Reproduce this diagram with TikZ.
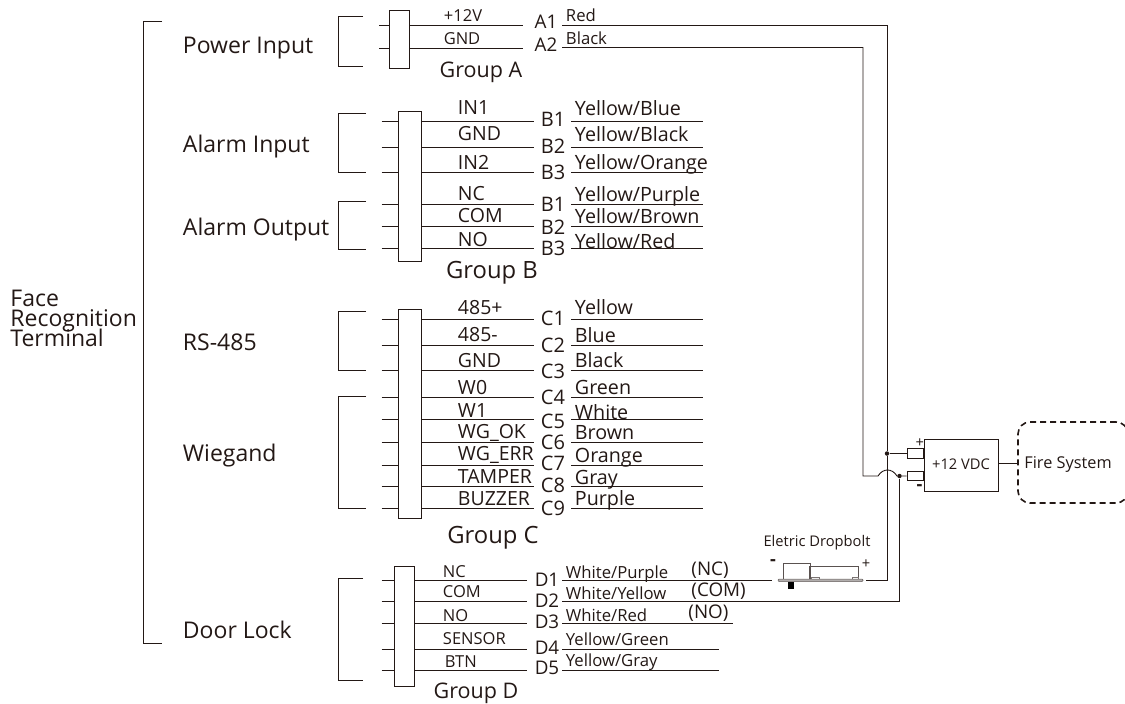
\documentclass[tikz,border=0pt]{standalone}
\usepackage{fontspec}
\setmainfont{Open Sans}
\definecolor{ink}{HTML}{231815}
\tikzset{
  x=1pt,y=-1pt,
  txt/.style={text=ink,inner sep=0pt,anchor=west,text depth=0pt},
  ctr/.style={txt,anchor=center},
  fs/.style={font=\fontsize{#1}{#1}\selectfont,text height=#1*0.714pt},
  fbig/.style={fs=23},
  fgroup/.style={fs=23.8},
  fgrp/.style={fs=21.5},
  fpin/.style={fs=19.5},
  fpins/.style={fs=16.5},
  fpt/.style={fs=20},
  fpts/.style={fs=18.8},
  fcol/.style={fs=19.7},
  fcols/.style={fs=16.7},
  fsm/.style={fs=14.7},
  fmin/.style={font=\fontsize{18}{18}\bfseries\selectfont},
  termbox/.style={draw=ink,fill=white,line width=0.9pt,rectangle,inner sep=0pt},
  dot/.style={circle,fill=ink,draw=none,inner sep=0pt,minimum size=4.5pt},
}
% name, stub-left x, box, wire-end x, cable-start x, cable-end x, y-list (id/y)
\newcommand{\pinrow}[7]{%
  \foreach \n/\y in {#7}{%
    \coordinate (#1\n s) at (#2,\y);
    \coordinate (#1\n t) at (#4,\y);
    \coordinate (#1\n u) at (#5,\y);
    \coordinate (#1\n v) at (#6,\y);
    \draw (#1\n s) -- (#3.west |- #1\n s);
    \draw (#3.east |- #1\n s) -- (#1\n t);
    \draw (#1\n u) -- (#1\n v);
  }}
\newcommand{\brkt}[4]{\draw (#2,#3) -- (#1,#3) -- (#1,#4) -- (#2,#4);}
\newcommand{\lb}[5]{\node[txt,#1] (#2) at (#3,#4) {#5};}
\newcommand{\lc}[5]{\node[ctr,#1] (#2) at (#3,#4) {#5};}
\begin{document}
\begin{tikzpicture}[color=ink,line width=0.9pt]
\useasboundingbox (0,0) rectangle (1125,704);
% terminal
\node[txt,fbig] (f1) at (10,298) {Face};
\node[txt,fbig] (f2) at (10,318) {Recognition};
\node[txt,fbig] (f3) at (10,338) {Terminal};
\brkt{143.5}{162}{21.5}{643}
\lb{fbig}{pwr}{182.5}{45}{Power Input}
\lb{fbig}{ain}{182.5}{144}{Alarm Input}
\lb{fbig}{aout}{182.5}{227}{Alarm Output}
\lb{fbig}{rs}{182.5}{342}{RS-485}
\lb{fbig}{wg}{182.5}{453}{Wiegand}
\lb{fbig}{dl}{182.5}{630}{Door Lock}
% brackets
\brkt{338.5}{363}{16.5}{66}
\brkt{338.5}{366}{113}{172.5}
\brkt{338.5}{366}{201}{249}
\brkt{338.5}{366}{311.5}{370.5}
\brkt{338.5}{366}{396.5}{508.5}
\brkt{338.5}{363}{578.5}{680.5}
% boxes
\node[termbox,minimum width=20pt,minimum height=58.5pt] (boxA) at (399,39.25) {};
\node[termbox,minimum width=23pt,minimum height=150.5pt] (boxB) at (409.5,186.25) {};
\node[termbox,minimum width=23pt,minimum height=208.5pt] (boxC) at (409.5,413.75) {};
\node[termbox,minimum width=20.5pt,minimum height=120pt] (boxD) at (404.25,626) {};
% group A
\coordinate (rs) at (379,25); \coordinate (rt) at (523,25);
\coordinate (gs) at (379,48); \coordinate (gt) at (523,48);
\draw (rs) -- (boxA.west |- rs); \draw (boxA.east |- rs) -- (rt);
\draw (gs) -- (boxA.west |- gs); \draw (boxA.east |- gs) -- (gt);
\lc{fpins}{a12}{463}{16}{+12V}
\lc{fpins}{agnd}{462}{39}{GND}
\lc{fpts}{a1}{546}{22}{A1}
\lc{fpts}{a2}{546}{45}{A2}
\lb{fcols}{ared}{565.5}{16}{Red}
\lb{fcols}{ablk}{565.5}{39}{Black}
\lc{fgrp}{gA}{481}{70}{Group A}
% group B
\pinrow{b}{381.5}{boxB}{534}{571}{703}{1/121.5,2/147,3/172.5,4/204.5,5/226.5,6/248.5}
\lb{fpin}{bl1}{457.5}{108}{IN1}
\lb{fpin}{bl2}{457.5}{134}{GND}
\lb{fpin}{bl3}{457.5}{163}{IN2}
\lb{fpin}{bl4}{457.5}{194}{NC}
\lb{fpin}{bl5}{457.5}{216}{COM}
\lb{fpin}{bl6}{457.5}{240}{NO}
\lc{fpt}{bp1}{553}{119}{B1}
\lc{fpt}{bp2}{553}{146}{B2}
\lc{fpt}{bp3}{553}{172}{B3}
\lc{fpt}{bp4}{553}{204}{B1}
\lc{fpt}{bp5}{553}{227}{B2}
\lc{fpt}{bp6}{553}{248}{B3}
\lb{fcol}{bc1}{574.5}{108}{Yellow/Blue}
\lb{fcol}{bc2}{574.5}{134}{Yellow/Black}
\lb{fcol}{bc3}{574.5}{162}{Yellow/Orange}
\lb{fcol}{bc4}{574.5}{194}{Yellow/Purple}
\lb{fcol}{bc5}{574.5}{216}{Yellow/Brown}
\lb{fcol}{bc6}{574.5}{241}{Yellow/Red}
\lc{fgroup}{gB}{492}{270}{Group B}
% group C
\pinrow{c}{381.5}{boxC}{534}{571}{703}{1/319.5,2/345.5,3/370.5,4/397.5,5/419.5,6/442,7/465,8/486.5,9/508.5}
\lb{fpin}{cl1}{457.5}{307.5}{485+}
\lb{fpin}{cl2}{457.5}{335}{485-}
\lb{fpin}{cl3}{457.5}{361}{GND}
\lb{fpin}{cl4}{457.5}{388}{W0}
\lb{fpin}{cl5}{457.5}{411}{W1}
\lb{fpin}{cl6}{457.5}{432}{WG\_OK}
\lb{fpin}{cl7}{457.5}{454}{WG\_ERR}
\lb{fpin}{cl8}{457.5}{477}{TAMPER}
\lb{fpin}{cl9}{457.5}{499}{BUZZER}
\lc{fpt}{cp1}{553}{318}{C1}
\lc{fpt}{cp2}{553}{345}{C2}
\lc{fpt}{cp3}{553}{371}{C3}
\lc{fpt}{cp4}{553}{397}{C4}
\lc{fpt}{cp5}{553}{421}{C5}
\lc{fpt}{cp6}{553}{442}{C6}
\lc{fpt}{cp7}{553}{463}{C7}
\lc{fpt}{cp8}{553}{485}{C8}
\lc{fpt}{cp9}{553}{508}{C9}
\lb{fcol}{cc1}{574.5}{307}{Yellow}
\lb{fcol}{cc2}{574.5}{335}{Blue}
\lb{fcol}{cc3}{574.5}{360}{Black}
\lb{fcol}{cc4}{574.5}{387}{Green}
\lb{fcol}{cc5}{574.5}{412}{White}
\lb{fcol}{cc6}{574.5}{432}{Brown}
\lb{fcol}{cc7}{574.5}{455}{Orange}
\lb{fcol}{cc8}{574.5}{477}{Gray}
\lb{fcol}{cc9}{574.5}{498}{Purple}
\lc{fgroup}{gC}{493}{535}{Group C}
% group D
\pinrow{d}{381.5}{boxD}{527}{562}{719}{4/649,5/670.5}
\foreach \n/\y in {1/580,2/601,3/623}{%
  \coordinate (d\n s) at (381.5,\y);
  \coordinate (d\n t) at (527,\y);
  \coordinate (d\n u) at (562,\y);
  \draw (d\n s) -- (boxD.west |- d\n s);
  \draw (boxD.east |- d\n s) -- (d\n t);
}
\coordinate (d3v) at (733,623);
\draw (d3u) -- (d3v);
\lb{fpins}{dl1}{442.5}{572}{NC}
\lb{fpins}{dl2}{442.5}{592}{COM}
\lb{fpins}{dl3}{442.5}{616}{NO}
\lb{fpins}{dl4}{442.5}{639}{SENSOR}
\lb{fpins}{dl5}{444.5}{662}{BTN}
\lc{fpts}{dp1}{547}{580}{D1}
\lc{fpts}{dp2}{547}{601}{D2}
\lc{fpts}{dp3}{547}{622}{D3}
\lc{fpts}{dp4}{547}{648}{D4}
\lc{fpts}{dp5}{547}{668}{D5}
\lb{fcols}{dc1}{565.5}{573}{White/Purple}
\lb{fcols}{dc2}{565.5}{594}{White/Yellow}
\lb{fcols}{dc3}{565.5}{616}{White/Red}
\lb{fcols}{dc4}{565.5}{640}{Yellow/Green}
\lb{fcols}{dc5}{565.5}{661}{Yellow/Gray}
\lb{fpts}{dn1}{691}{569}{(NC)}
\lb{fpts}{dn2}{691}{590}{(COM)}
\lb{fpts}{dn3}{688}{612}{(NO)}
\lc{fgrp}{gD}{476}{691}{Group D}
% dropbolt
\lc{fsm}{db}{817}{541}{Eletric Dropbolt}
\node[txt,anchor=center,fmin] (dbm) at (773,563) {-};
\lc{fsm}{dbp}{866}{563}{+}
\coordinate (plateL) at (772,580);
\coordinate (plateR) at (866,580);
\draw[line width=0.8pt,draw=ink!75] (783,580) rectangle (810,563.5);
\draw[line width=0.8pt,draw=ink!75] (809,580) rectangle (858,566);
\draw[line width=0.6pt,draw=ink!60] (811,580) rectangle (819,577.5);
\draw[line width=0.6pt,draw=ink!60] (852,580) rectangle (858,577);
\path[fill=black] (788,582) rectangle (793.5,589);
\draw[draw=ink!70,fill=ink!35,line width=0.5pt,rounded corners=1pt] (778,579) rectangle (863,581.5);
% power module
\node[termbox,minimum width=74pt,minimum height=52pt] (vdc) at (961,465) {};
\node[ctr,fsm] (vdct) at (961,464.5) {+12 VDC};
\node[termbox,anchor=east,minimum width=16pt,minimum height=9.5pt] (pos) at (vdc.west |- 0,453.5) {};
\node[termbox,anchor=east,minimum width=16pt,minimum height=9.5pt] (neg) at (vdc.west |- 0,476) {};
\lc{fsm}{vp}{919.7}{442}{+}
\node[txt,anchor=center,fmin] (vm) at (919.5,488) {-};
\node[dot] (j1) at (887,453.5) {};
\node[dot] (j2) at (899.5,476) {};
\coordinate (ra) at (887,25);
\coordinate (ba) at (863,47.5);
\coordinate (bb) at (863,476);
\coordinate (h1) at (878,476);
\coordinate (h2) at (897,476);
\coordinate (a1u) at (562,25);
\coordinate (a2u) at (562,47.5);
\coordinate (d2c) at (899.5,601);
\coordinate (rb) at (887,580);
% red / black runs
\draw (a1u) -- (ra) -- (j1) -- (pos.west);
\draw (j1) -- (rb) -- (plateR);
\draw (a2u) -- (ba) -- (bb) -- (h1) .. controls (883,468) and (892,468) .. (h2) -- (j2) -- (neg.west);
\draw (d1u) -- (plateL);
\draw (d2u) -- (d2c) -- (j2);
% fire system
\node[draw=ink,line width=1.6pt,dash pattern=on 6pt off 4pt,rounded corners=12pt,minimum width=110pt,minimum height=81pt] (fire) at (1073,462.5) {};
\node[txt,fs=16.3] (firet) at (1024,463) {Fire System};
\draw (vdc.east |- firet.west) -- (fire.west |- firet.west);
\end{tikzpicture}
\end{document}
